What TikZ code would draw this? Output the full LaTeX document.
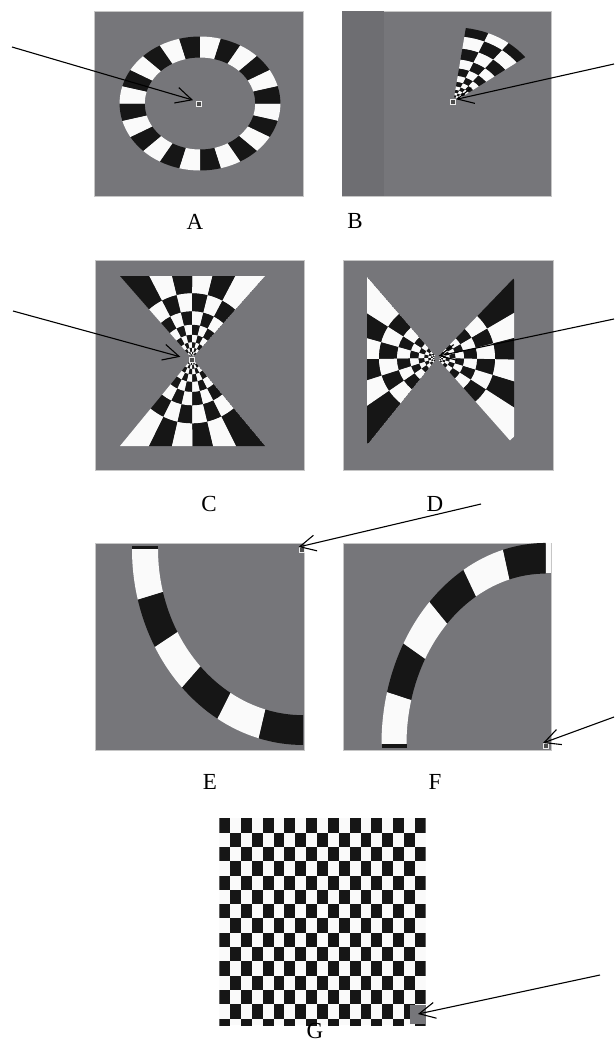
\documentclass[tikz,border=0pt]{standalone}
\usepackage{fontspec}
\setmainfont{Liberation Serif}
\usepackage{xcolor}
\usepackage{tikz}
\usetikzlibrary{arrows.meta}
\definecolor{panelgray}{RGB}{118,118,122}
\definecolor{stripgray}{RGB}{110,110,114}
\definecolor{cellblack}{RGB}{22,22,22}
\definecolor{cellwhite}{RGB}{250,250,250}
\tikzset{
  style panel/.style={
    fill=panelgray,
    draw=gray!45,
    line width=0.6pt,
  },
  style black/.style={
    fill=cellblack,
  },
  style white/.style={
    fill=cellwhite,
  },
  marker/.style={
    draw=white!85!gray,
    fill=black!70,
    line width=1pt,
    minimum size=5pt,
    inner sep=0pt,
  },
  letter/.style={
    font=\fontsize{23}{23}\selectfont,
    inner sep=0pt,
  }
}
\newcommand{\checkfan}[5]{%
  \foreach \rOut/\rIn [count=\i] in {#5} {
    \foreach \j in {1,...,#3} {
      \pgfmathsetmacro\angA{#1+(\j-1)*(#2)}
      \pgfmathsetmacro\angB{#1+\j*(#2)}
      \pgfmathtruncatemacro\cellpar{mod(\i+\j+#4,2)}
      \ifnum\cellpar=0 \def\cellfill{cellblack}\else\def\cellfill{cellwhite}\fi
      \fill[fill=\cellfill] (\angA:\rIn) arc[start angle=\angA, end angle=\angB, radius=\rIn]
        -- (\angB:\rOut) arc[start angle=\angB, end angle=\angA, radius=\rOut] -- cycle;
    }
  }%
}
\begin{document}
\begin{tikzpicture}[x=1pt, y=-1pt]
    \useasboundingbox (0,0) rectangle (614,1042);
    \fill[white] (0,0) rectangle (614,1042);

    \path[style panel] (94,11) rectangle (303,196);
    \begin{scope}[shift={(200,103.5)}, xscale=1.2]
        \checkfan{0}{15}{24}{1}{67/46}
    \end{scope}

    \path[style panel] (342,11) rectangle (551,196);
    \fill[stripgray] (342.3,11.3) rectangle (384,195.7);
    \begin{scope}[shift={(453.3,102.3)}, xscale=1.2]
        \checkfan{-82}{15}{3}{0}{75/66, 66/54, 54/43, 43/34, 34/26.5, 26.5/20.5, 20.5/16, 16/12.5, 12.5/9.5, 9.5/7, 7/5}
    \end{scope}

    \path[style panel] (95,260) rectangle (304,470);
    \begin{scope}[shift={(192,358.3)}]
        \clip (0,0) -- (-72,-82.3) -- (73,-82.3) -- cycle;
        \checkfan{-131.2}{13.8}{6}{0}{130/65, 65/47, 47/33.5, 33.5/23.5, 23.5/16, 16/10.5, 10.5/6.5, 6.5/4, 4/2.5}
    \end{scope}
    \begin{scope}[shift={(192,358.3)}]
        \clip (0,0) -- (-72,87.7) -- (73,87.7) -- cycle;
        \checkfan{50.2}{13.2}{6}{0}{130/65, 65/47, 47/33.5, 33.5/23.5, 23.5/16, 16/10.5, 10.5/6.5, 6.5/4, 4/2.5}
    \end{scope}

    \path[style panel] (343,260) rectangle (553,470);
    \begin{scope}[shift={(437,358)}]
        \clip (0,0) -- (-70,-81) -- (-70,87) -- cycle;
        \checkfan{229.2}{-16.73}{6}{1}{110/58, 58/40, 40/27, 27/18.5, 18.5/12.7, 12.7/8.7, 8.7/6, 6/4.1, 4.1/2.8}
    \end{scope}
    \begin{scope}[shift={(437,358)}]
        \clip (0,0) -- (77,-80) -- (77,87) -- cycle;
        \checkfan{-46.1}{15.77}{6}{0}{110/58, 58/40, 40/27, 27/18.5, 18.5/12.7, 12.7/8.7, 8.7/6, 6/4.1, 4.1/2.8}
    \end{scope}

    \path[style panel] (95,543) rectangle (304,750);
    \begin{scope}[shift={(303,549)}, yscale=1.146]
        \checkfan{180}{-15}{6}{1}{171/145}
    \end{scope}
    \fill[style black] (131.7,546.3) rectangle (158.3,549.3);

    \path[style panel] (343,543) rectangle (551,750);
    \begin{scope}[shift={(545.5,744)}, yscale=1.226]
        \checkfan{180}{15}{6}{1}{164/139}
    \end{scope}
    \fill[style black] (381.5,744) rectangle (406.5,748);
    \fill[style white] (545.5,543.3) rectangle (550.5,573);

    \begin{scope}
        \clip (219.3,818.3) rectangle (425.7,1025);
        \fill[style white] (219.3,818.3) rectangle (425.7,1025);
        \foreach \gr in {0,...,14} {
            \foreach \gc in {0,...,18} {
                \pgfmathtruncatemacro\cellpar{mod(\gr+\gc,2)}
                \ifnum\cellpar=0
                    \fill[style black] ({219.3+10.863*\gc},{818.3+14.3*\gr}) rectangle +(10.863,14.3);
                \fi
            }
        }
    \end{scope}

    \begin{scope}[every node/.style={marker}]
        \node (markA) at (199,104) {};
        \node (markB) at (453.3,102.3) {};
        \node (markC) at (192,360) {};
        \node (markE) at (301.5,550) {};
        \node (markF) at (546,746) {};
    \end{scope}
    \node[fill=panelgray, minimum width=16pt, minimum height=19pt, inner sep=0pt] (markG) at (418,1014) {};
    \coordinate (markD) at (438.5,356);

    \coordinate (startA) at (12,47);
    \coordinate (startB) at (614,64);
    \coordinate (startC) at (13,311);
    \coordinate (startD) at (614,319);
    \coordinate (startE) at (481,504);
    \coordinate (startF) at (614,717);
    \coordinate (startG) at (600,975);

    \begin{scope}[>={Straight Barb[black, length=16pt, width=16pt]}, every edge/.style={draw=black, line width=1.1pt}]
        \path [->] (startA) edge[shorten >=3pt] (markA.north west);
        \path [->] (startB) edge (markB.north east);
        \path [->] (startC) edge[shorten >=9pt] (markC);
        \path [->] (startD) edge (markD);
        \path [->] (startE) edge (markE.north west);
        \path [->] (startF) edge (markF.north west);
        \path [->] (startG) edge (markG.center);
    \end{scope}

    \begin{scope}[every node/.style={letter}]
        \node (labA) at (195,221.5) {A};
        \node (labB) at (355,221) {B};
        \node (labC) at (209,503.5) {C};
        \node (labD) at (435,503.5) {D};
        \node (labE) at (210,782) {E};
        \node (labF) at (435,781.5) {F};
        \node (labG) at (315,1031) {G};
    \end{scope}
\end{tikzpicture}
\end{document}
